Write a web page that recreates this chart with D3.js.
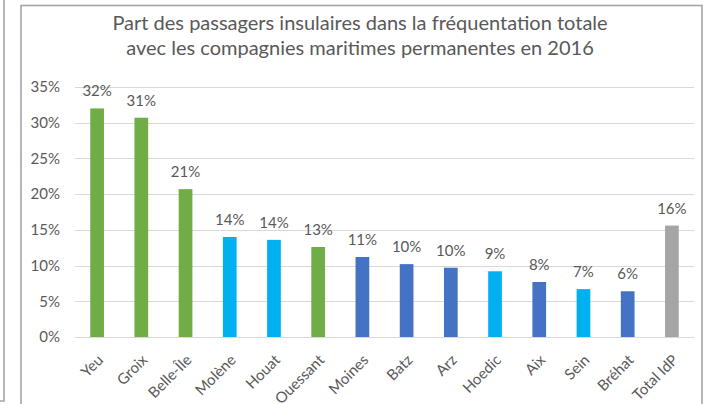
<!DOCTYPE html>
<html>
<head>
<meta charset="utf-8">
<script src="https://cdn.jsdelivr.net/npm/d3@7"></script>
<style>
  html, body { margin: 0; padding: 0; background: #fff; }
  svg { display: block; }
  text { font-family: Lato, "Open Sans", sans-serif; fill: #595959; }
</style>
</head>
<body>
<svg id="chart" width="707" height="404"></svg>
<script>
// Îles desservies et part des passagers insulaires (2016)
const islands = ["Yeu", "Groix", "Belle-Île", "Molène", "Houat", "Ouessant", "Moines",
                 "Batz", "Arz", "Hoedic", "Aix", "Sein", "Bréhat", "Total IdP"];
const shares = [0.320, 0.307, 0.207, 0.140, 0.136, 0.126, 0.112,
                0.102, 0.097, 0.092, 0.077, 0.067, 0.064, 0.156];
// Groupe de couleur de chaque barre
const groups = ["vert", "vert", "vert", "ciel", "ciel", "vert", "bleu",
                "bleu", "bleu", "ciel", "bleu", "ciel", "bleu", "total"];
const yTicks = [0, 0.05, 0.10, 0.15, 0.20, 0.25, 0.30, 0.35];
const titleLines = ["Part des passagers insulaires dans la fréquentation totale",
                    "avec les compagnies maritimes permanentes en 2016"];

const palette = { vert: "#70ad47", ciel: "#00b0f0", bleu: "#4472c4", total: "#a5a5a5" };

const svg = d3.select("#chart");

// Cadres
svg.append("path")
  .attr("d", "M4,0 V401 H0")
  .attr("fill", "none").attr("stroke", "#a6a6a6").attr("stroke-width", 1.6);
svg.append("rect")
  .attr("x", 21).attr("y", 5.5).attr("width", 681).attr("height", 420)
  .attr("fill", "#fff").attr("stroke", "#a6a6a6").attr("stroke-width", 1.6);

// Titre
svg.append("text")
  .attr("x", 360).attr("y", 30)
  .attr("text-anchor", "middle")
  .style("font-size", "20px")
  .selectAll("tspan").data(titleLines).join("tspan")
  .attr("x", 360).attr("dy", (d, i) => i === 0 ? 0 : 24.5)
  .text(d => d);

const plot = { left: 75, right: 694, top: 87, bottom: 337 };

const x = d3.scaleBand().domain(islands).range([plot.left, plot.right]).paddingInner(0.69).paddingOuter(0.345);
const y = d3.scaleLinear().domain([0, 0.35]).range([plot.bottom, plot.top]);

// Quadrillage
svg.append("g").selectAll("line").data(yTicks).join("line")
  .attr("x1", plot.left).attr("x2", plot.right)
  .attr("y1", d => Math.round(y(d)) + 0.5).attr("y2", d => Math.round(y(d)) + 0.5)
  .attr("stroke", "#d9d9d9").attr("stroke-width", 1);

// Axe vertical
const yAxis = svg.append("g")
  .attr("transform", `translate(${plot.left},0)`)
  .call(d3.axisLeft(y).tickValues(yTicks).tickFormat(d3.format(".0%")).tickSize(0).tickPadding(15));
yAxis.select(".domain").remove();
yAxis.selectAll("text").style("font-size", "15px").attr("fill", "#595959");

// Barres
svg.append("g").selectAll("rect").data(islands).join("rect")
  .attr("x", d => x(d))
  .attr("width", x.bandwidth())
  .attr("y", (d, i) => y(shares[i]))
  .attr("height", (d, i) => y(0) - y(shares[i]))
  .attr("fill", (d, i) => palette[groups[i]]);

// Étiquettes de valeur
svg.append("g").selectAll("text").data(islands).join("text")
  .attr("x", d => x(d) + x.bandwidth() / 2)
  .attr("y", (d, i) => y(shares[i]) - 12)
  .attr("text-anchor", "middle")
  .style("font-size", "15px")
  .text((d, i) => d3.format(".0%")(shares[i]));

// Axe horizontal
const xAxis = svg.append("g")
  .attr("transform", `translate(0,${plot.bottom})`)
  .call(d3.axisBottom(x).tickSize(0).tickPadding(0));
xAxis.select(".domain").remove();
xAxis.selectAll("text")
  .style("font-size", "15px").attr("fill", "#595959")
  .attr("text-anchor", "end")
  .attr("dy", null).attr("y", 0)
  .attr("transform", "translate(7,24) rotate(-45)");
</script>
</body>
</html>
